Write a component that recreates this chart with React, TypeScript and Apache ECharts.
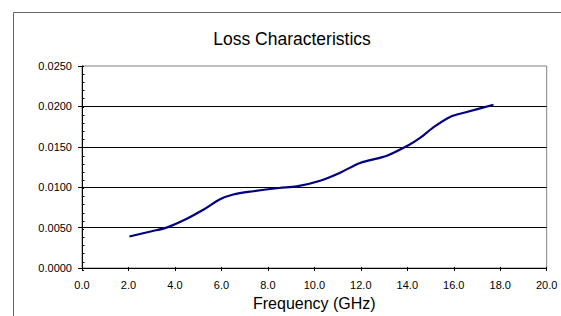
import React, { useEffect, useRef } from "react";
import * as echarts from "echarts";

const frequency = [2.04, 3.0, 3.64, 4.51, 5.22, 5.94, 6.51, 7.37, 8.49, 9.24, 10.25, 11.11, 11.97, 13.12, 14.05, 14.55, 15.12, 15.84, 16.56, 17.71];
const loss = [0.0039, 0.00455, 0.005, 0.0061, 0.0072, 0.0085, 0.0091, 0.0095, 0.0099, 0.0101, 0.0108, 0.0118, 0.013, 0.0139, 0.0152, 0.0161, 0.0174, 0.0187, 0.0193, 0.0202];
const titleText = "Loss Characteristics";
const xAxisName = "Frequency (GHz)";

const FONT = "'Liberation Sans', Arial, sans-serif";

export default function App() {
  const ref = useRef<HTMLDivElement>(null);
  useEffect(() => {
    if (!ref.current) return;
    const chart = echarts.init(ref.current, undefined, { renderer: "svg" });
    const gridBox = { left: 82, top: 66, right: 14.3, bottom: 46 };
    const data = frequency.map((f, i) => [f, loss[i]]);
    chart.setOption({
      animation: false,
      backgroundColor: "#ffffff",
      textStyle: { fontFamily: FONT },
      graphic: [
        {
          type: "rect",
          shape: { x: 13.5, y: 12.5, width: 700, height: 500 },
          style: { fill: "none", stroke: "#666666", lineWidth: 1 },
          z: -1,
        },
        {
          type: "text",
          style: {
            x: 292,
            y: 39,
            text: titleText,
            textAlign: "center",
            textVerticalAlign: "middle",
            fontSize: 17.5,
            fontFamily: FONT,
            fill: "#000",
          },
        },
      ],
      grid: [
        { ...gridBox, show: true, borderColor: "#808080", borderWidth: 1, backgroundColor: "transparent" },
        { ...gridBox, show: false },
      ],
      xAxis: [
        {
          type: "value",
          gridIndex: 0,
          min: 0,
          max: 20,
          interval: 2,
          name: xAxisName,
          nameLocation: "middle",
          nameGap: 27,
          nameTextStyle: { fontSize: 16, color: "#000", fontFamily: FONT },
          axisLine: { show: true, lineStyle: { color: "#000", width: 1 } },
          axisTick: { show: true, inside: false, length: 3, lineStyle: { color: "#000" } },
          axisLabel: {
            color: "#000",
            fontSize: 11,
            margin: 11,
            fontFamily: FONT,
            formatter: (v: number) => v.toFixed(1),
          },
          splitLine: { show: false },
        },
        {
          type: "value",
          gridIndex: 1,
          min: 0,
          max: 20,
          interval: 2,
          axisLine: { show: false },
          axisTick: { show: true, inside: true, length: 3, lineStyle: { color: "#000" } },
          axisLabel: { show: false },
          splitLine: { show: false },
        },
      ],
      yAxis: [
        {
          type: "value",
          gridIndex: 0,
          min: 0,
          max: 0.025,
          interval: 0.005,
          axisLine: { show: true, lineStyle: { color: "#000", width: 1 } },
          axisTick: { show: true, inside: false, length: 4, lineStyle: { color: "#000" } },
          axisLabel: {
            color: "#000",
            fontSize: 11,
            margin: 10,
            fontFamily: FONT,
            formatter: (v: number) => v.toFixed(4),
          },
          splitLine: { show: true, showMaxLine: false, lineStyle: { color: "#000", width: 1 } },
        },
        {
          type: "value",
          gridIndex: 1,
          min: 0,
          max: 0.025,
          interval: 0.005,
          axisLine: { show: false },
          axisTick: { show: true, inside: true, length: 2, lineStyle: { color: "#000" } },
          minorTick: { show: true, splitNumber: 5, length: 2.5, lineStyle: { color: "#000" } },
          axisLabel: { show: false },
          splitLine: { show: false },
        },
      ],
      series: [
        {
          type: "line",
          xAxisIndex: 0,
          yAxisIndex: 0,
          data,
          smooth: 0.3,
          showSymbol: false,
          symbol: "none",
          lineStyle: { color: "#000080", width: 2.2 },
          z: 5,
        },
      ],
    });
    return () => chart.dispose();
  }, []);
  return (
    <div
      ref={ref}
      style={{ position: "fixed", left: 0, top: 0, width: 561, height: 316 }}
    />
  );
}
